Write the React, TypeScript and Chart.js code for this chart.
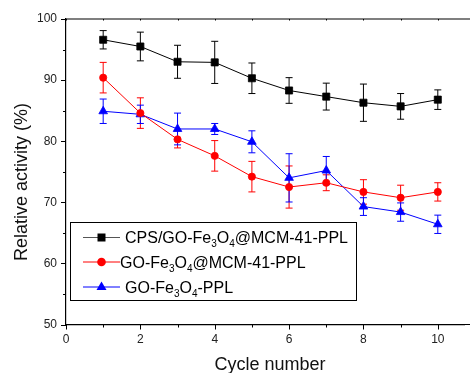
import React, { useEffect, useRef } from "react";
import { Chart, registerables } from "chart.js";

Chart.register(...registerables);

const cycles = [1, 2, 3, 4, 5, 6, 7, 8, 9, 10];
const cpsValues = [96.6, 95.5, 93.0, 92.9, 90.3, 88.3, 87.3, 86.3, 85.7, 86.8];
const cpsErrors = [1.5, 2.35, 2.7, 3.45, 2.5, 2.1, 2.2, 3.05, 2.1, 1.6];
const mcmValues = [90.4, 84.6, 80.3, 77.6, 74.2, 72.5, 73.2, 71.7, 70.75, 71.7];
const mcmErrors = [2.5, 2.5, 1.4, 2.5, 2.5, 3.45, 1.3, 2.0, 2.05, 1.5];
const goValues = [84.9, 84.4, 82.0, 82.0, 79.9, 74.0, 75.2, 69.3, 68.4, 66.4];
const goErrors = [2.0, 1.5, 2.6, 0.9, 1.8, 3.95, 2.3, 1.45, 1.5, 1.5];

// legend labels split into [text, isSubscript] parts
const legendParts: [string, boolean][][] = [
  [["CPS/GO-Fe", false], ["3", true], ["O", false], ["4", true], ["@MCM-41-PPL", false]],
  [["GO-Fe", false], ["3", true], ["O", false], ["4", true], ["@MCM-41-PPL", false]],
  [["GO-Fe", false], ["3", true], ["O", false], ["4", true], ["-PPL", false]],
];
const xTitle = "Cycle number";
const yTitle = "Relative activity (%)";

const FONT = "Arial, 'Liberation Sans', Helvetica, sans-serif";

const seriesStyle = [
  { color: "#000000", point: "rect", radius: 5 },
  { color: "#ff0000", point: "circle", radius: 3.6 },
  { color: "#0000ff", point: "triangle", radius: 5 },
];
const errorSets = [cpsErrors, mcmErrors, goErrors];

const errorBarPlugin = {
  id: "errorBars",
  beforeDatasetsDraw(chart: any) {
    const ctx = chart.ctx;
    const x = chart.scales.x;
    const y = chart.scales.y;
    chart.data.datasets.forEach((ds: any, i: number) => {
      const errs = errorSets[i];
      ctx.save();
      ctx.strokeStyle = seriesStyle[i].color;
      ctx.lineWidth = 1;
      ds.data.forEach((p: any, j: number) => {
        const px = x.getPixelForValue(p.x);
        const top = y.getPixelForValue(p.y + errs[j]);
        const bot = y.getPixelForValue(p.y - errs[j]);
        ctx.beginPath();
        ctx.moveTo(px, top);
        ctx.lineTo(px, bot);
        ctx.moveTo(px - 3.5, top);
        ctx.lineTo(px + 3.5, top);
        ctx.moveTo(px - 3.5, bot);
        ctx.lineTo(px + 3.5, bot);
        ctx.stroke();
      });
      ctx.restore();
    });
  },
};

const framePlugin = {
  id: "frame",
  afterDraw(chart: any) {
    const ctx = chart.ctx;
    const { left, top, bottom } = chart.chartArea;
    const xs = chart.scales.x;
    const ys = chart.scales.y;
    ctx.save();
    ctx.strokeStyle = "#000";
    ctx.lineWidth = 1.2;
    // top axis line
    ctx.beginPath();
    ctx.moveTo(left, top);
    ctx.lineTo(470, top);
    ctx.stroke();
    // bottom axis line to the canvas edge
    ctx.beginPath();
    ctx.moveTo(left, bottom);
    ctx.lineTo(470, bottom);
    ctx.stroke();
    // ticks
    ctx.lineWidth = 1;
    for (let v = 0; v <= 10; v++) {
      const px = Math.round(xs.getPixelForValue(v)) + 0.5;
      const len = v % 2 === 0 ? 5 : 3;
      ctx.beginPath();
      ctx.moveTo(px, bottom);
      ctx.lineTo(px, bottom + len);
      ctx.moveTo(px, top);
      ctx.lineTo(px, top + 1.5);
      ctx.stroke();
    }
    for (let v = 50; v <= 100; v += 5) {
      const py = Math.round(ys.getPixelForValue(v)) + 0.5;
      const len = v % 10 === 0 ? 5 : 3;
      ctx.beginPath();
      ctx.moveTo(left, py);
      ctx.lineTo(left - len, py);
      ctx.stroke();
    }
    // axis titles
    ctx.fillStyle = "#111";
    ctx.font = `18px ${FONT}`;
    ctx.textAlign = "center";
    ctx.textBaseline = "alphabetic";
    ctx.fillText(xTitle, 270, 370);
    ctx.save();
    ctx.translate(27, 182);
    ctx.rotate(-Math.PI / 2);
    ctx.fillText(yTitle, 0, 0);
    ctx.restore();

    // legend
    const bx = 70.5, by = 222.5, bw = 286, bh = 78;
    ctx.fillStyle = "#fff";
    ctx.fillRect(bx, by, bw, bh);
    ctx.strokeStyle = "#000";
    ctx.lineWidth = 1;
    ctx.strokeRect(bx, by, bw, bh);
    const rowsY = [237.5, 262, 287];
    const textX = [125, 120, 125];
    chart.data.datasets.forEach((ds: any, i: number) => {
      const ry = rowsY[i];
      const st = seriesStyle[i];
      ctx.strokeStyle = i === 0 ? "#555" : st.color;
      ctx.lineWidth = 1;
      ctx.beginPath();
      ctx.moveTo(83, ry);
      ctx.lineTo(120, ry);
      ctx.stroke();
      ctx.fillStyle = st.color;
      ctx.beginPath();
      if (st.point === "rect") {
        ctx.rect(101.5 - 4, ry - 4, 8, 8);
      } else if (st.point === "circle") {
        ctx.arc(101.5, ry, 4.3, 0, Math.PI * 2);
      } else {
        ctx.moveTo(101.5, ry - 5.5);
        ctx.lineTo(101.5 + 5, ry + 3);
        ctx.lineTo(101.5 - 5, ry + 3);
        ctx.closePath();
      }
      ctx.fill();
      // text with subscripts
      let tx = textX[i];
      ctx.fillStyle = "#000";
      ctx.textAlign = "left";
      ctx.textBaseline = "alphabetic";
      legendParts[i].forEach(([t, sub]) => {
        if (sub) {
          ctx.font = `10px ${FONT}`;
          ctx.fillText(t, tx, ry + 9.5);
        } else {
          ctx.font = `16px ${FONT}`;
          ctx.fillText(t, tx, ry + 5.8);
        }
        tx += ctx.measureText(t).width;
      });
    });
    ctx.restore();
  },
};

function makePoints(vals: number[]) {
  return cycles.map((c, i) => ({ x: c, y: vals[i] }));
}

export default function App() {
  const ref = useRef<HTMLCanvasElement | null>(null);
  useEffect(() => {
    document.body.style.margin = "0";
    const canvas = ref.current!;
    const valueSets = [cpsValues, mcmValues, goValues];
    const chart = new Chart(canvas, {
      type: "line",
      data: {
        datasets: valueSets.map((vals, i) => ({
          label: "s" + i,
          data: makePoints(vals),
          borderColor: seriesStyle[i].color,
          backgroundColor: seriesStyle[i].color,
          borderWidth: 1,
          pointStyle: seriesStyle[i].point as any,
          pointRadius: seriesStyle[i].radius,
          pointBorderWidth: 0.8,
          tension: 0,
        })),
      },
      options: {
        responsive: false,
        animation: false,
        layout: { padding: { top: 19, left: 0, right: 0, bottom: 0 } },
        plugins: { legend: { display: false }, tooltip: { enabled: false } },
        scales: {
          x: {
            type: "linear",
            min: 0,
            max: 10.71,
            afterFit: (s: any) => {
              s.height = 373 - 324.5;
            },
            grid: { display: false, drawTicks: true, tickLength: 5 },
            border: { display: true, color: "#000", width: 1.2 },
            ticks: {
              stepSize: 1,
              includeBounds: false,
              autoSkip: false,
              maxRotation: 0,
              padding: 3,
              color: "#222",
              font: { family: FONT, size: 12 },
              callback: (v: any) => (Number(v) % 2 === 0 ? String(v) : ""),
            },
          },
          y: {
            type: "linear",
            min: 50,
            max: 100,
            afterFit: (s: any) => {
              s.width = 66;
            },
            grid: { display: false, drawTicks: true, tickLength: 5 },
            border: { display: true, color: "#000", width: 1.2 },
            ticks: {
              stepSize: 5,
              autoSkip: false,
              padding: 4,
              color: "#222",
              font: { family: FONT, size: 12 },
              callback: (v: any) => (Number(v) % 10 === 0 ? String(v) : ""),
            },
          },
        },
      },
      plugins: [errorBarPlugin, framePlugin],
    });
    return () => chart.destroy();
  }, []);
  return (
    <div style={{ width: 470, height: 373 }}>
      <canvas ref={ref} width={470} height={373} style={{ display: "block" }} />
    </div>
  );
}
